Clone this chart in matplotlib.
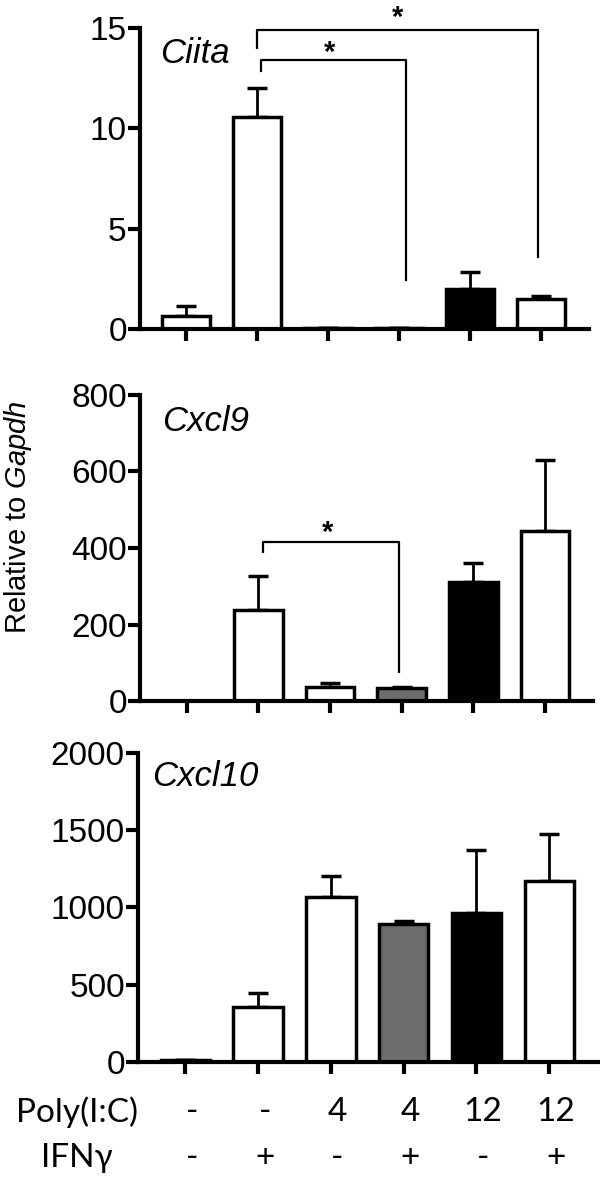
import numpy as np
import matplotlib
matplotlib.use("Agg")
import matplotlib.pyplot as plt
from matplotlib.transforms import blended_transform_factory

plt.rcParams['font.family'] = ['Liberation Sans', 'DejaVu Sans']
plt.rcParams['mathtext.fontset'] = 'custom'
plt.rcParams['mathtext.rm'] = 'Liberation Sans'
plt.rcParams['mathtext.it'] = 'Liberation Sans:italic'

# data
groups = np.arange(6)
poly_ic = ['-', '-', '4', '4', '12', '12']
ifng = ['-', '+', '-', '+', '-', '+']
bar_colors = ['white', 'white', 'white', '#6d6d6d', 'black', 'white']

genes = ['Ciita', 'Cxcl9', 'Cxcl10']
ciita_mean = [0.65, 10.55, 0.05, 0.05, 2.0, 1.5]
ciita_err = [0.5, 1.45, 0.02, 0.02, 0.85, 0.15]
cxcl9_mean = [0, 238, 37, 34, 311, 444]
cxcl9_err = [0, 89, 10, 2, 50, 186]
cxcl10_mean = [10, 356, 1068, 893, 964, 1171]
cxcl10_err = [0, 91, 136, 20, 408, 305]

y_max = [15, 800, 2000]
y_ticks = [[0, 5, 10, 15], [0, 200, 400, 600, 800], [0, 500, 1000, 1500, 2000]]

# brackets: (x left, x right, top, left leg end, right leg end)
ciita_brackets = [(1.05, 3.1, 13.4, 12.85, 2.45), (1.0, 4.95, 14.9, 14.0, 3.6)]
ciita_stars = [(2.02, 13.35), (2.98, 15.1)]
cxcl9_brackets = [(1.07, 2.97, 416, 390, 76)]
cxcl9_stars = [(1.97, 418)]

means = [ciita_mean, cxcl9_mean, cxcl10_mean]
errs = [ciita_err, cxcl9_err, cxcl10_err]
brackets = [ciita_brackets, cxcl9_brackets, []]
stars = [ciita_stars, cxcl9_stars, []]

fig = plt.figure(figsize=(6, 11.78), dpi=100)
positions = [[0.2333, 0.7207, 0.748, 0.2555],
             [0.2333, 0.4049, 0.755, 0.2598],
             [0.23, 0.0985, 0.7667, 0.2623]]
label_offsets = [(20, -25), (22, -27), (14, -24)]

axes = []
for k in range(3):
    ax = fig.add_axes(positions[k])
    axes.append(ax)
    m = np.array(means[k], dtype=float)
    e = np.array(errs[k], dtype=float)
    ax.bar(groups, m, width=0.68, color=bar_colors, edgecolor='black',
           linewidth=2.5, zorder=2)
    ax.errorbar(groups, m, yerr=[np.zeros_like(e), e], fmt='none',
                ecolor='black', elinewidth=2, capsize=7, capthick=2.5, zorder=1)
    ax.set_xlim(-0.65, 5.67)
    ax.set_ylim(0, y_max[k])
    ax.set_yticks(y_ticks[k])
    ax.set_xticks(groups)
    ax.set_xticklabels([])
    ax.spines['top'].set_visible(False)
    ax.spines['right'].set_visible(False)
    ax.spines['left'].set_linewidth(3)
    ax.spines['bottom'].set_linewidth(3)
    ax.tick_params(axis='both', length=8.5, width=3, labelsize=24, pad=1)
    ax.annotate(genes[k], xy=(0, 1), xycoords='axes fraction',
                xytext=label_offsets[k], textcoords='offset pixels',
                ha='left', va='center', fontsize=25, style='italic')
    for x0, x1, top, l_end, r_end in brackets[k]:
        ax.plot([x0, x0, x1, x1], [l_end, top, top, r_end], color='black',
                linewidth=1.6, clip_on=False, zorder=3)
    for sx, sy in stars[k]:
        ax.text(sx, sy, '*', ha='center', va='baseline', fontsize=21,
                fontweight='bold', clip_on=False)

axes[1].set_ylabel(r'Relative to $\mathit{Gapdh}$', fontsize=21)
axes[1].yaxis.set_label_coords(-0.235, 0.6)

# treatment table under the last panel
trans = blended_transform_factory(axes[2].transData, fig.transFigure)
row_y = [1 - 1112 / 1178, 1 - 1158 / 1178]
fig.text(77 / 600, row_y[0], 'Poly(I:C)', ha='center', va='center',
         fontsize=24, family=['Lato', 'DejaVu Sans'])
fig.text(77 / 600, row_y[1], 'IFNγ', ha='center', va='center',
         fontsize=24, family=['Lato', 'DejaVu Sans'])
for i in groups:
    fig.text(i + 0.09, row_y[0], poly_ic[i], transform=trans, ha='center',
             va='center', fontsize=24, family=['Lato', 'DejaVu Sans'])
    fig.text(i + 0.09, row_y[1], ifng[i], transform=trans, ha='center',
             va='center', fontsize=24, family=['Lato', 'DejaVu Sans'])

fig.savefig('out.png', dpi=100)
